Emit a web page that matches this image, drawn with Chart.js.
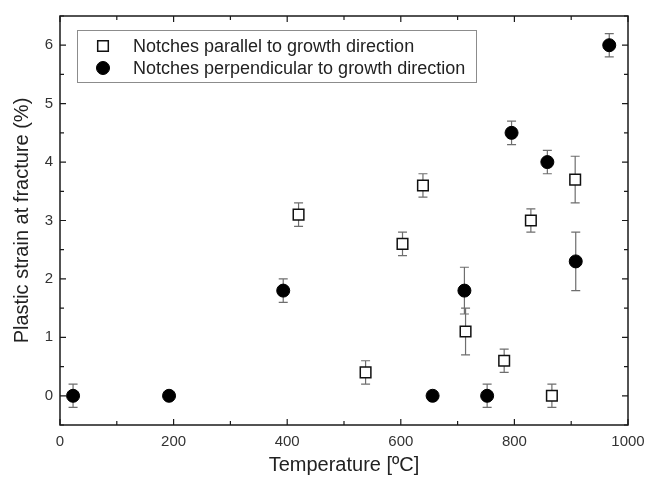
<!DOCTYPE html>
<html>
<head>
<meta charset="utf-8">
<script src="https://cdn.jsdelivr.net/npm/chart.js@4.4.1/dist/chart.umd.min.js"></script>
<style>
  html, body { margin: 0; padding: 0; background: #fff; }
  #strain { display: block; }
</style>
</head>
<body>
<canvas id="strain" width="645" height="477"></canvas>
<script>
// notches parallel to growth direction
var parTemp   = [420, 538, 603, 639, 714, 782, 829, 866, 907];
var parStrain = [3.1, 0.4, 2.6, 3.6, 1.1, 0.6, 3.0, 0.0, 3.7];
var parErr    = [0.2, 0.2, 0.2, 0.2, 0.4, 0.2, 0.2, 0.2, 0.4];

// notches perpendicular to growth direction
var perpTemp   = [23, 192, 393, 656, 712, 752, 795, 858, 908, 967];
var perpStrain = [0.0, 0.0, 1.8, 0.0, 1.8, 0.0, 4.5, 4.0, 2.3, 6.0];
var perpErr    = [0.2, 0, 0.2, 0, 0.4, 0.2, 0.2, 0.2, 0.5, 0.2];

var xTicks = [0, 200, 400, 600, 800, 1000];
var xMinor = [100, 300, 500, 700, 900];
var yTicks = [0, 1, 2, 3, 4, 5, 6];
var yMinor = [-0.5, 0.5, 1.5, 2.5, 3.5, 4.5, 5.5, 6.5];

var FONT = "'Liberation Sans', Arial, sans-serif";
Chart.defaults.font.family = FONT;

function toPoints(xs, ys) {
  return xs.map(function (x, i) { return {x: x, y: ys[i]}; });
}

var errors = [parErr, perpErr];

var errorBars = {
  id: 'errorBars',
  beforeDatasetsDraw: function (chart) {
    var ctx = chart.ctx, xs = chart.scales.x, ys = chart.scales.y;
    ctx.save();
    ctx.strokeStyle = '#6e6e6e';
    ctx.lineWidth = 1.2;
    chart.data.datasets.forEach(function (ds, i) {
      ds.data.forEach(function (p, j) {
        var e = errors[i][j];
        if (!e) return;
        var x = xs.getPixelForValue(p.x);
        var y1 = ys.getPixelForValue(p.y + e);
        var y2 = ys.getPixelForValue(p.y - e);
        ctx.beginPath();
        ctx.moveTo(x, y1); ctx.lineTo(x, y2);
        ctx.moveTo(x - 4.5, y1); ctx.lineTo(x + 4.5, y1);
        ctx.moveTo(x - 4.5, y2); ctx.lineTo(x + 4.5, y2);
        ctx.stroke();
      });
    });
    ctx.restore();
  }
};

var frame = {
  id: 'frame',
  afterDraw: function (chart) {
    var ctx = chart.ctx, a = chart.chartArea, xs = chart.scales.x, ys = chart.scales.y;
    ctx.save();
    ctx.strokeStyle = '#1a1a1a';
    ctx.lineWidth = 1.5;
    ctx.strokeRect(a.left, a.top, a.right - a.left, a.bottom - a.top);
    ctx.lineWidth = 1.2;
    ctx.beginPath();
    function vtick(v, len) {
      var x = xs.getPixelForValue(v);
      ctx.moveTo(x, a.bottom); ctx.lineTo(x, a.bottom - len);
      ctx.moveTo(x, a.top); ctx.lineTo(x, a.top + len);
    }
    function htick(v, len) {
      var y = ys.getPixelForValue(v);
      ctx.moveTo(a.left, y); ctx.lineTo(a.left + len, y);
      ctx.moveTo(a.right, y); ctx.lineTo(a.right - len, y);
    }
    xTicks.forEach(function (v) { vtick(v, 6); });
    xMinor.forEach(function (v) { vtick(v, 4); });
    yTicks.forEach(function (v) { htick(v, 6); });
    yMinor.forEach(function (v) { htick(v, 4); });
    ctx.stroke();

    // legend box
    ctx.strokeStyle = '#8c8c8c';
    ctx.lineWidth = 1;
    ctx.strokeRect(77.5, 30.5, 399, 52);
    ctx.font = '18px ' + FONT;
    ctx.textBaseline = 'middle';
    ctx.textAlign = 'left';
    var rows = [46, 68];
    chart.data.datasets.forEach(function (ds, i) {
      ctx.fillStyle = ds.backgroundColor;
      ctx.strokeStyle = ds.borderColor;
      ctx.lineWidth = ds.borderWidth;
      Chart.helpers.drawPoint(ctx, {pointStyle: ds.pointStyle, radius: ds.pointRadius, borderWidth: ds.borderWidth, rotation: 0}, 103, rows[i]);
      ctx.fillStyle = '#222';
      ctx.fillText(ds.label, 133, rows[i] + 1);
    });
    ctx.restore();
  }
};

new Chart(document.getElementById('strain'), {
  type: 'scatter',
  data: {
    datasets: [{
      label: 'Notches parallel to growth direction',
      data: toPoints(parTemp, parStrain),
      pointStyle: 'rect',
      pointRadius: 7.5,
      backgroundColor: '#ffffff',
      borderColor: '#111111',
      borderWidth: 1.5
    }, {
      label: 'Notches perpendicular to growth direction',
      data: toPoints(perpTemp, perpStrain),
      pointStyle: 'circle',
      pointRadius: 6.5,
      backgroundColor: '#000000',
      borderColor: '#000000',
      borderWidth: 1
    }]
  },
  options: {
    responsive: false,
    animation: false,
    layout: { padding: { top: 11, right: 0, left: 0, bottom: 0 } },
    plugins: { legend: { display: false }, tooltip: { enabled: false } },
    scales: {
      x: {
        type: 'linear', min: 0, max: 1000,
        grid: { display: false, drawTicks: false },
        border: { display: false },
        afterBuildTicks: function (s) { s.ticks = xTicks.map(function (v) { return {value: v}; }); },
        afterFit: function (s) { s.height = 52; s.paddingRight = 17; s.paddingLeft = 0; },
        ticks: { font: { size: 15 }, color: '#333', padding: 8, maxRotation: 0,
                 callback: function (v) { return String(v); } },
        title: { display: true, text: 'Temperature [ºC]', font: { size: 20 }, color: '#222', padding: { top: 0, bottom: 0 } }
      },
      y: {
        type: 'linear', min: -0.5, max: 6.5,
        grid: { display: false, drawTicks: false },
        border: { display: false },
        afterBuildTicks: function (s) { s.ticks = yTicks.map(function (v) { return {value: v}; }); },
        afterFit: function (s) { s.width = 60; },
        ticks: { font: { size: 15 }, color: '#333', padding: 7,
                 callback: function (v) { return String(v); } },
        title: { display: true, text: 'Plastic strain at fracture (%)', font: { size: 20 }, color: '#222', padding: { top: 10, bottom: 0 } }
      }
    }
  },
  plugins: [errorBars, frame]
});
</script>
</body>
</html>
